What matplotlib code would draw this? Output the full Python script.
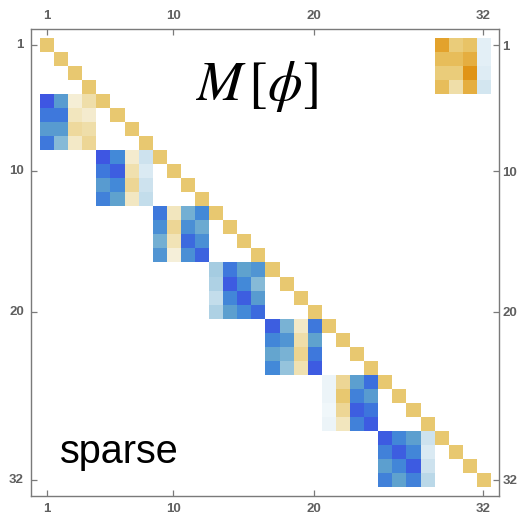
import numpy as np
import matplotlib
matplotlib.use("Agg")
import matplotlib.pyplot as plt
from matplotlib.colors import LinearSegmentedColormap, Normalize

N = 32
block_size = 4
diag_value = 0.5

# 4x4 blocks: (first row, first col) -> values (row-major), 1-indexed positions
block_origins = [(5, 1), (9, 5), (13, 9), (17, 13), (21, 17), (25, 21), (29, 25), (1, 29)]
block_values = [
    [[-1.00, -0.55, 0.12, 0.30],
     [-0.80, -0.80, 0.22, 0.15],
     [-0.55, -0.55, 0.35, 0.30],
     [-0.80, -0.35, 0.18, 0.38]],
    [[-1.00, -0.70, 0.15, -0.12],
     [-0.80, -0.95, 0.28, -0.08],
     [-0.55, -0.70, 0.38, -0.12],
     [-0.75, -0.50, 0.20, -0.15]],
    [[-0.80, 0.22, -0.42, -0.70],
     [-0.65, 0.38, -0.65, -0.45],
     [-0.42, 0.25, -0.88, -0.65],
     [-0.60, 0.10, -0.65, -0.92]],
    [[-0.25, -0.80, -0.50, -0.60],
     [-0.22, -0.97, -0.70, -0.35],
     [-0.15, -0.72, -0.95, -0.55],
     [-0.22, -0.52, -0.70, -0.88]],
    [[-0.95, -0.40, 0.18, -0.80],
     [-0.72, -0.60, 0.30, -0.50],
     [-0.48, -0.40, 0.40, -0.80],
     [-0.70, -0.30, 0.27, -0.97]],
    [[-0.04, 0.38, -0.52, -0.85],
     [-0.04, 0.50, -0.75, -0.55],
     [-0.03, 0.38, -0.95, -0.82],
     [-0.04, 0.22, -0.75, -0.97]],
    [[-0.97, -0.72, -0.52, -0.12],
     [-0.75, -0.95, -0.72, -0.08],
     [-0.52, -0.72, -0.97, -0.12],
     [-0.75, -0.50, -0.75, -0.18]],
    [[0.85, 0.47, 0.55, -0.06],
     [0.60, 0.60, 0.72, -0.06],
     [0.47, 0.47, 1.00, -0.07],
     [0.60, 0.30, 0.72, -0.10]],
]
tick_values = [1, 10, 20, 32]
title_text = r"$M\,\left[\phi\right]$"
corner_text = "sparse"

# build matrix
M = np.zeros((N, N))
for i in range(N):
    M[i, i] = diag_value
for (r0, c0), vals in zip(block_origins, block_values):
    M[r0 - 1:r0 - 1 + block_size, c0 - 1:c0 - 1 + block_size] = np.array(vals)
Mm = np.ma.masked_equal(M, 0.0)

anchors = [
    (0.000, (62, 86, 226)),
    (0.075, (60, 112, 222)),
    (0.150, (68, 138, 216)),
    (0.250, (95, 162, 206)),
    (0.325, (135, 187, 216)),
    (0.400, (180, 213, 230)),
    (0.460, (218, 234, 243)),
    (0.500, (255, 255, 255)),
    (0.550, (246, 240, 218)),
    (0.610, (242, 230, 190)),
    (0.690, (238, 215, 150)),
    (0.750, (233, 201, 113)),
    (0.860, (230, 175, 65)),
    (1.000, (224, 148, 22)),
]
cmap = LinearSegmentedColormap.from_list(
    "mma", [(p, tuple(c / 255 for c in rgb)) for p, rgb in anchors], N=1024)
cmap.set_bad("white")

fig = plt.figure(figsize=(5.18, 5.15), dpi=100)
ax = fig.add_axes([30.7 / 518, 1 - 496 / 515, (499 - 30.7) / 518, (496 - 29) / 515])
ax.set_facecolor("white")

pad = 0.65
ax.imshow(Mm, cmap=cmap, norm=Normalize(-1, 1), interpolation="nearest",
          extent=(0.5, N + 0.5, N + 0.5, 0.5), aspect="auto")
ax.set_xlim(0.5 - pad, N + 0.5 + pad)
ax.set_ylim(N + 0.5 + pad, 0.5 - pad)

frame_color = "#7a7a7a"
for s in ax.spines.values():
    s.set_color(frame_color)
    s.set_linewidth(1.0)

ax.set_xticks(tick_values)
ax.set_yticks(tick_values)
ax.set_xticklabels([str(t) for t in tick_values])
ax.set_yticklabels([str(t) for t in tick_values])
ax.tick_params(axis="both", which="both", direction="in", length=4, width=0.9,
               color=frame_color, labelcolor="#5f5f5f", labelsize=9.5,
               top=True, bottom=True, left=True, right=True,
               labeltop=True, labelbottom=True, labelleft=True, labelright=True,
               pad=5)
ax.tick_params(axis="y", which="both", labelright=True, pad=5)
for lab in ax.yaxis.get_ticklabels(which="both"):
    pass
for t in ax.yaxis.get_major_ticks():
    t.set_pad(5)
    t.label2.set_x(1.0)
for lab in ax.get_xticklabels() + ax.get_yticklabels():
    lab.set_fontfamily("Liberation Sans")
    lab.set_fontweight("bold")
for t in ax.yaxis.get_major_ticks():
    t.label2.set_fontfamily("Liberation Sans")
    t.label2.set_fontweight("bold")
for t in ax.xaxis.get_major_ticks():
    t.label2.set_fontfamily("Liberation Sans")
    t.label2.set_fontweight("bold")
ax.yaxis.set_tick_params(which="major", pad=2.5, labelleft=False, labelright=True)
ax2 = ax
# left labels with their own pad via a secondary approach: draw left labels explicitly
for v in tick_values:
    ax.annotate(str(v), xy=(0, v), xycoords=("axes fraction", "data"),
                xytext=(-5, 0), textcoords="offset points", ha="right", va="center",
                fontsize=9.5, color="#5f5f5f", family="Liberation Sans", fontweight="bold")

plt.rcParams["mathtext.fontset"] = "stix"
ax.text(0.482, 0.877, title_text, transform=ax.transAxes, fontsize=40,
        ha="center", va="center", color="black")
ax.text(0.063, 0.071, corner_text, transform=ax.transAxes, fontsize=28.5,
        family="Liberation Sans", ha="left", va="baseline", color="black")

fig.savefig("out.png", dpi=100)
